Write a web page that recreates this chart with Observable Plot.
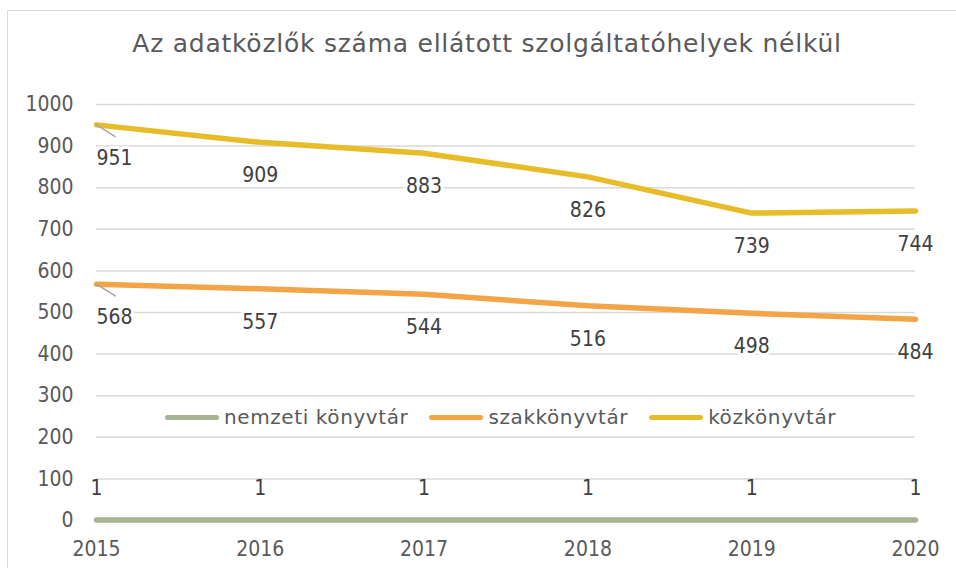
<!DOCTYPE html>
<html>
<head>
<meta charset="utf-8">
<script src="https://cdn.jsdelivr.net/npm/d3@7"></script>
<script src="https://cdn.jsdelivr.net/npm/@observablehq/plot@0.6"></script>
<style>
  html, body { margin: 0; padding: 0; background: #fff; }
  body { width: 956px; height: 568px; position: relative; overflow: hidden; font-family: "DejaVu Sans", sans-serif; }
  #frame { position: absolute; left: 7px; top: 10px; width: 1000px; height: 700px; border: 1.5px solid #d9d9d9; box-sizing: border-box; }
  #title { position: absolute; left: 0; width: 956px; top: 29px; text-align: center; font-size: 25px; letter-spacing: 0.75px; color: #595959; padding-left: 18px; box-sizing: border-box; white-space: nowrap; }
  #chart { position: absolute; left: 0; top: 0; }
  #legend { position: absolute; top: 405px; left: 165px; display: flex; align-items: center; font-size: 20px; letter-spacing: 0.6px; color: #595959; white-space: nowrap; }
  .item { display: flex; align-items: center; margin-right: 21px; }
  .sw { display: inline-block; width: 54px; height: 5px; border-radius: 3px; margin-right: 5px; }
</style>
</head>
<body>
<div id="frame"></div>
<div id="title">Az adatközlők száma ellátott szolgáltatóhelyek nélkül</div>
<div id="chart"></div>
<div id="legend"></div>
<script>
const years = [2015, 2016, 2017, 2018, 2019, 2020];
const seriesNames = ["nemzeti könyvtár", "szakkönyvtár", "közkönyvtár"];
const nemzeti = [1, 1, 1, 1, 1, 1];
const szak = [568, 557, 544, 516, 498, 484];
const kozk = [951, 909, 883, 826, 739, 744];
const colors = ["#a5b592", "#f3a447", "#e7bc29"];
const yTicks = [0, 100, 200, 300, 400, 500, 600, 700, 800, 900, 1000];

const numFont = "DejaVu Sans Condensed, DejaVu Sans, sans-serif";

const rows = [];
[nemzeti, szak, kozk].forEach((vals, si) => {
  vals.forEach((v, i) => rows.push({year: years[i], value: v, series: seriesNames[si], idx: i}));
});

const isGreen = d => d.series === seriesNames[0];
const belowFirst = rows.filter(d => !isGreen(d) && d.idx === 0);
const belowRest = rows.filter(d => !isGreen(d) && d.idx > 0);
const aboveAll = rows.filter(d => isGreen(d));
const labelStyle = {x: "year", y: "value", text: d => String(d.value), fill: "#404040", fontSize: 21, fontFamily: numFont};

const plot = Plot.plot({
  width: 956,
  height: 568,
  marginLeft: 96,
  marginRight: 41,
  marginTop: 104,
  marginBottom: 48,
  style: {fontFamily: numFont, fontSize: "21px", color: "#595959", background: "transparent"},
  x: {domain: [2015, 2020], label: null},
  y: {domain: [0, 1000], label: null},
  marks: [
    Plot.gridY(yTicks, {stroke: "#d9d9d9", strokeOpacity: 1, strokeWidth: 1.5}),
    Plot.axisX({ticks: years, tickFormat: d => String(d), tickSize: 0, tickPadding: 21, fontSize: 21, fill: "#595959", label: null}),
    Plot.axisY({ticks: yTicks, tickFormat: d => String(d), tickSize: 0, tickPadding: 23, fontSize: 21, fill: "#595959", label: null}),
    Plot.line(rows, {x: "year", y: "value", z: "series", stroke: d => colors[seriesNames.indexOf(d.series)], strokeWidth: 5.5, strokeLinecap: "round", strokeLinejoin: "round"}),
    Plot.vector(belowFirst, {x: "year", y: "value", length: 22, rotate: 122, anchor: "start", stroke: "#a6a6a6", strokeWidth: 1.5,
      shape: {draw(ctx, l) { ctx.moveTo(0, 0); ctx.lineTo(0, -l); }}}),
    Plot.text(belowFirst, {...labelStyle, dy: 33, dx: 18, stroke: "white", strokeWidth: 6, paintOrder: "stroke"}),
    Plot.text(belowRest, {...labelStyle, dy: 33, stroke: "white", strokeWidth: 6, paintOrder: "stroke"}),
    Plot.text(aboveAll, {...labelStyle, dy: -32})
  ]
});
document.getElementById("chart").appendChild(plot);

const legend = document.getElementById("legend");
seriesNames.forEach((n, i) => {
  const it = document.createElement("div");
  it.className = "item";
  it.innerHTML = `<span class="sw" style="background:${colors[i]}"></span><span>${n}</span>`;
  legend.appendChild(it);
});
</script>
</body>
</html>
